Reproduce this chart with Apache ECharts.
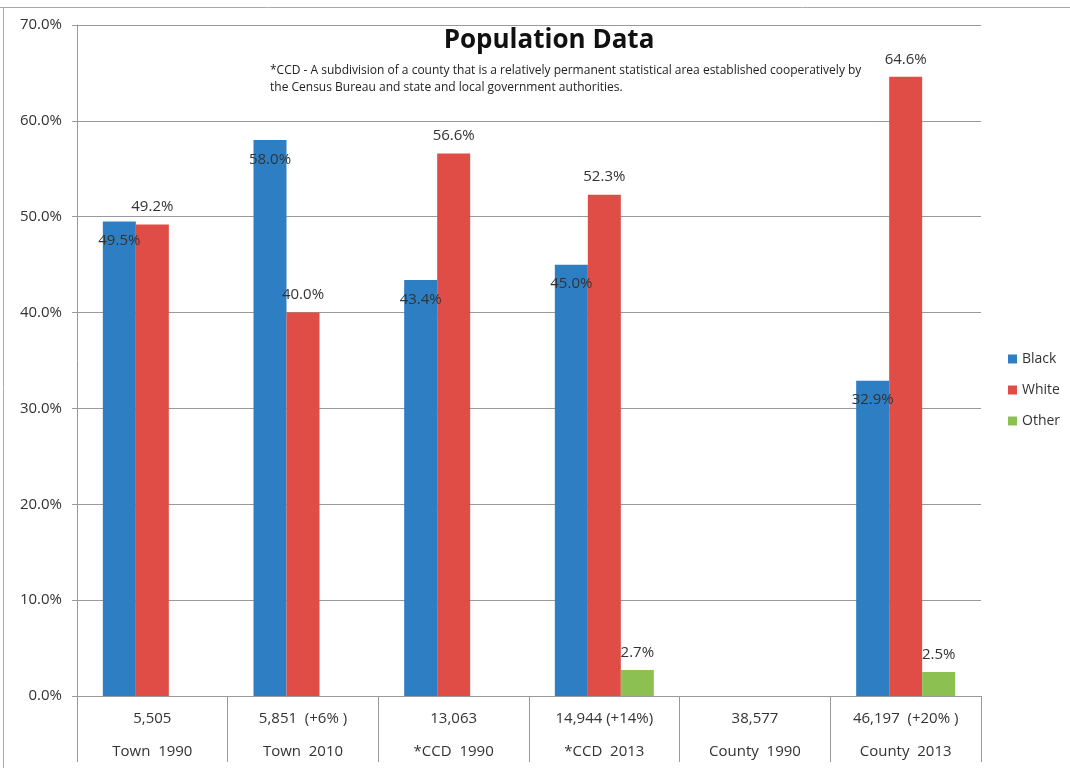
<!DOCTYPE html>
<html>
<head>
<meta charset="utf-8">
<script src="https://cdn.jsdelivr.net/npm/echarts@6/dist/echarts.min.js"></script>
<style>
  html, body { margin: 0; padding: 0; background: #fff; }
  #main { width: 1070px; height: 768px; }
</style>
</head>
<body>
<div id="main"></div>
<script>
// categories: population count + place/year
const populations = ['5,505', '5,851  (+6% )', '13,063', '14,944 (+14%)', '38,577', '46,197  (+20% )']
const places = ['Town  1990', 'Town  2010', '*CCD  1990', '*CCD  2013', 'County  1990', 'County  2013']

// percent of population
const black = [49.5, 58.0, 43.4, 45.0, null, 32.9]
const white = [49.2, 40.0, 56.6, 52.3, null, 64.6]
const other = [null, null, null, 2.7, null, 2.5]

const yTicks = { min: 0, max: 70, interval: 10 }

const font = '"Open Sans", sans-serif'
const textColor = '#333'

const categories = populations.map((p, i) => p + '\n' + places[i])

const pct = v => v.toFixed(1) + '%'

function barSeries (name, data, color, labelPos) {
  return {
    name: name,
    type: 'bar',
    data: data,
    barWidth: 33,
    barGap: '0%',
    itemStyle: { color: color },
    label: {
      show: true,
      position: labelPos,
      distance: labelPos === 'insideTop' ? 12 : 10,
      color: textColor,
      fontFamily: font,
      fontSize: 15,
      formatter: p => pct(p.value)
    }
  }
}

const option = {
  backgroundColor: '#fff',
  animation: false,
  title: {
    text: 'Population Data',
    left: 544,
    top: 23,
    textAlign: 'center',
    textStyle: { fontFamily: font, fontSize: 26, fontWeight: 'bold', color: '#111' }
  },
  graphic: [
    {
      type: 'text',
      left: 270,
      top: 62,
      style: {
        text: '*CCD - A subdivision of a county that is a relatively permanent statistical area established cooperatively by\nthe Census Bureau and state and local government authorities.',
        font: '12px "Open Sans", sans-serif',
        lineHeight: 17,
        fill: '#222'
      }
    },
    { type: 'line', shape: { x1: 0, y1: 7.5, x2: 1070, y2: 7.5 }, style: { stroke: '#aaa', lineWidth: 1 } },
    { type: 'line', shape: { x1: 3.5, y1: 7, x2: 3.5, y2: 768 }, style: { stroke: '#aaa', lineWidth: 1 } }
  ],
  legend: {
    orient: 'vertical',
    left: 1003,
    top: 347,
    itemWidth: 9,
    itemHeight: 9,
    itemGap: 17,
    icon: 'rect',
    textStyle: { fontFamily: font, fontSize: 14, color: textColor },
    data: ['Black', 'White', 'Other']
  },
  grid: { left: 77, right: 89, top: 25, bottom: 71 },
  xAxis: {
    type: 'category',
    data: categories,
    axisLine: { lineStyle: { color: '#999' } },
    axisTick: { show: true, length: 66, lineStyle: { color: '#999' } },
    axisLabel: {
      interval: 0,
      margin: 6,
      fontFamily: font,
      fontSize: 15,
      color: textColor,
      lineHeight: 33
    }
  },
  yAxis: {
    type: 'value',
    min: yTicks.min,
    max: yTicks.max,
    interval: yTicks.interval,
    axisLine: { show: true, lineStyle: { color: '#999' } },
    axisTick: { show: true, length: 5, lineStyle: { color: '#999' } },
    splitLine: { lineStyle: { color: '#999' } },
    axisLabel: {
      margin: 15,
      fontFamily: font,
      fontSize: 15,
      color: textColor,
      formatter: v => pct(v)
    }
  },
  series: [
    barSeries('Black', black, '#2e7ec3', 'insideTop'),
    barSeries('White', white, '#e04d47', 'top'),
    barSeries('Other', other, '#8cc152', 'top')
  ]
}

const myChart = echarts.init(document.getElementById('main'))
myChart.setOption(option)
</script>
</body>
</html>
